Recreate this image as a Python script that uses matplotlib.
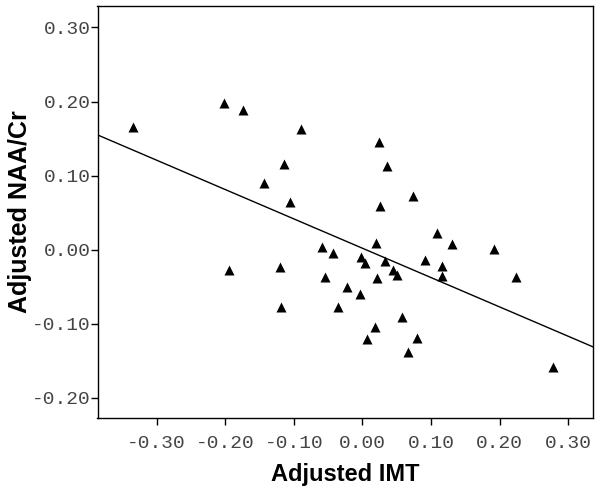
import numpy as np
import matplotlib.pyplot as plt

# Adjusted IMT / Adjusted NAA/Cr
imt = [-0.335, -0.201, -0.174, -0.143, -0.115, -0.105, -0.089, -0.194, -0.120, -0.119,
       0.024, 0.035, 0.073, 0.025, 0.109, 0.131, 0.191, 0.020, -0.059, -0.043,
       -0.002, 0.004, 0.033, 0.044, 0.051, 0.021, -0.055, -0.023, -0.003, -0.035,
       0.058, 0.018, 0.006, 0.080, 0.067, 0.091, 0.116, 0.116, 0.223, 0.278]
naa = [0.166, 0.198, 0.188, 0.090, 0.115, 0.064, 0.163, -0.027, -0.023, -0.078,
       0.145, 0.113, 0.072, 0.059, 0.022, 0.007, 0.001, 0.009, 0.004, -0.005,
       -0.010, -0.018, -0.015, -0.028, -0.035, -0.039, -0.037, -0.051, -0.060, -0.077,
       -0.091, -0.105, -0.121, -0.119, -0.138, -0.014, -0.022, -0.036, -0.037, -0.158]

ticks = [-0.30, -0.20, -0.10, 0.00, 0.10, 0.20, 0.30]
yticks = [-0.20, -0.10, 0.00, 0.10, 0.20, 0.30]
xlim = (-0.386, 0.3355)
ylim = (-0.2275, 0.329)

fig = plt.figure(figsize=(6, 4.92), dpi=100)
ax = fig.add_axes([0.1625, 0.1504, 0.8255, 0.8374])

ax.scatter(imt, naa, marker='^', s=52, color='black', linewidths=0, zorder=3)

# linear fit line
k, b0 = np.polyfit(imt, naa, 1)
xs = np.array(xlim)
ax.plot(xs, k * xs + b0, color='black', lw=1)

ax.set_xlim(*xlim)
ax.set_ylim(*ylim)
ax.set_xticks(ticks)
ax.set_yticks(yticks)
ax.set_xticklabels(['%.2f' % t for t in ticks])
ax.set_yticklabels(['%.2f' % t for t in yticks])

for lab in ax.get_xticklabels() + ax.get_yticklabels():
    lab.set_family('Liberation Mono')
    lab.set_fontsize(14)
    lab.set_color('#444444')

ax.tick_params(direction='out', length=5, width=1, color='black')
ax.tick_params(axis='y', pad=0)
ax.tick_params(axis='x', pad=7)
for s in ax.spines.values():
    s.set_linewidth(1)

ax.set_xlabel('Adjusted IMT', family='Liberation Sans', fontweight='bold', fontsize=17, labelpad=8)
ax.set_ylabel('Adjusted NAA/Cr', family='Liberation Sans', fontweight='bold', fontsize=18, labelpad=0)

fig.savefig('out.png', dpi=100)
